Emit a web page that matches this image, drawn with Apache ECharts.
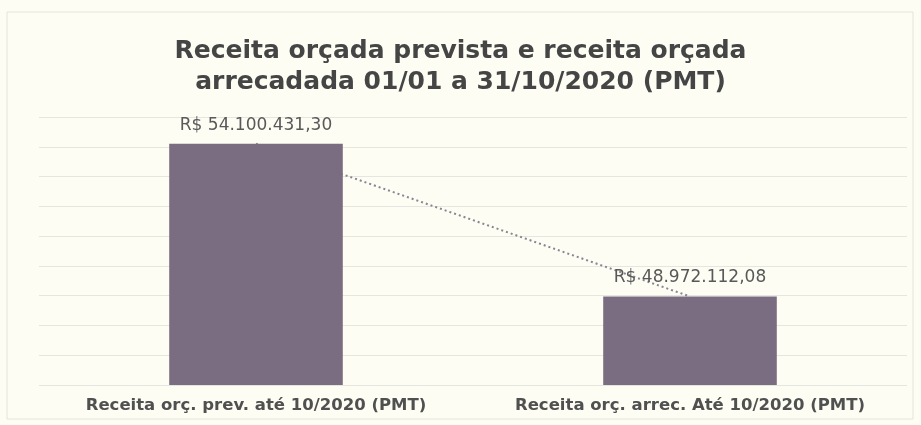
<!DOCTYPE html>
<html>
<head>
<meta charset="utf-8">
<style>
  html, body { margin: 0; padding: 0; background: #fdfdf4; }
  #chart { width: 921px; height: 425px; }
</style>
<script src="https://cdn.jsdelivr.net/npm/echarts@6/dist/echarts.min.js"></script>
</head>
<body>
<div id="chart"></div>
<script>
// Categories and revenue values (R$)
const categories = [
  'Receita orç. prev. até 10/2020 (PMT)',
  'Receita orç. arrec. Até 10/2020 (PMT)'
];
const valueLabels = ['R$ 54.100.431,30', 'R$ 48.972.112,08'];
const revenue = [54100431.30, 48972112.08];

const chart = echarts.init(document.getElementById('chart'));

chart.setOption({
  backgroundColor: '#fdfdf4',
  animation: false,
  title: {
    text: 'Receita orçada prevista e receita orçada\narrecadada 01/01 a 31/10/2020 (PMT)',
    left: 'center',
    top: 31,
    textStyle: {
      fontFamily: 'DejaVu Sans',
      fontSize: 25,
      fontWeight: 'bold',
      color: '#454545',
      lineHeight: 31
    }
  },
  graphic: [{
    type: 'rect',
    shape: { x: 7, y: 12, width: 906, height: 407 },
    style: { fill: 'none', stroke: '#e4e4da', lineWidth: 1 },
    z: -1
  }],
  grid: { left: 39, right: 14, top: 117, bottom: 40 },
  xAxis: {
    type: 'category',
    data: categories,
    axisLine: { show: false },
    axisTick: { show: false },
    axisLabel: {
      interval: 0,
      hideOverlap: false,
      margin: 12,
      fontFamily: 'DejaVu Sans',
      fontSize: 16.5,
      fontWeight: 'bold',
      color: '#505050'
    }
  },
  yAxis: {
    type: 'value',
    min: 46000000,
    max: 55000000,
    interval: 1000000,
    axisLabel: { show: false },
    axisLine: { show: false },
    axisTick: { show: false },
    splitLine: { lineStyle: { color: '#e6e6e0', width: 1 } }
  },
  series: [
    {
      // linear trend between the two totals
      type: 'line',
      data: revenue,
      symbol: 'none',
      z: 1,
      lineStyle: { color: '#8a8390', width: 2, type: [2, 3] }
    },
    {
      type: 'bar',
      data: revenue,
      barWidth: '40%',
      z: 2,
      itemStyle: { color: '#7b6d81' },
      label: {
        show: true,
        position: 'top',
        distance: 10,
        fontFamily: 'DejaVu Sans',
        fontSize: 17,
        color: '#595959',
        formatter: p => valueLabels[p.dataIndex]
      }
    }
  ]
});
</script>
</body>
</html>
